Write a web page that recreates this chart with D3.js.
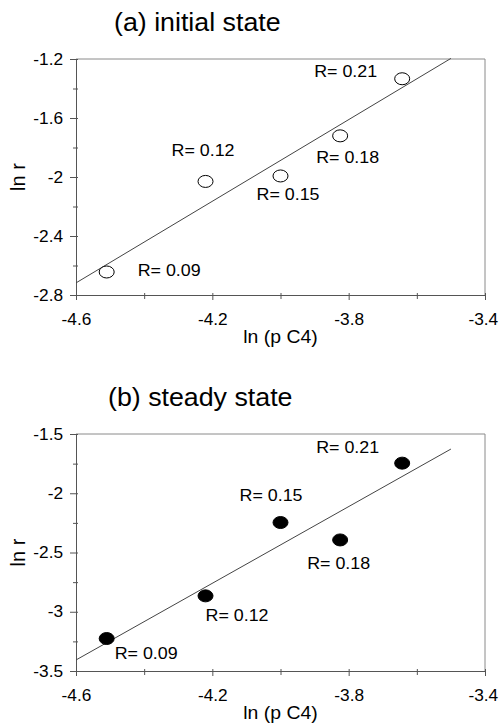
<!DOCTYPE html>
<html>
<head>
<meta charset="utf-8">
<script src="https://cdn.jsdelivr.net/npm/d3@7"></script>
<style>
  body { margin: 0; background: #fff; }
  text { font-family: "Liberation Sans", Arial, sans-serif; fill: #000; }
</style>
</head>
<body>
<div id="chart"></div>
<script>
// data
const lnPC4 = [-4.51, -4.22, -4.00, -3.825, -3.643]
const rLabels = ["R= 0.09", "R= 0.12", "R= 0.15", "R= 0.18", "R= 0.21"]
const lnRInitial = [-2.644, -2.03, -1.993, -1.721, -1.334]
const lnRSteady = [-3.226, -2.866, -2.247, -2.394, -1.746]
// fitted lines, given as their two end points [x, y]
const fitInitial = [[-4.6, -2.718], [-3.5, -1.196]]
const fitSteady = [[-4.6, -3.407], [-3.5, -1.627]]

const xMajor = [-4.6, -4.2, -3.8, -3.4]
const xMinor = [-4.4, -4.0, -3.6]
const yMajorA = [-2.8, -2.4, -2.0, -1.6, -1.2]
const yMinorA = [-2.6, -2.2, -1.8, -1.4]
const yMajorB = [-3.5, -3.0, -2.5, -2.0, -1.5]
const yMinorB = [-3.25, -2.75, -2.25, -1.75]

const width = 499
const height = 724
const left = 76, right = 485
const stretch = 1.08 // the scanned text is a little wider than Arial

const svg = d3.select("div#chart").append("svg").attr("width", width).attr("height", height)

const fmt = d => String(+d.toFixed(2))

function drawPanel(p) {
    const g = svg.append("g").attr("class", "panel")
    const x = d3.scaleLinear().domain([-4.6, -3.4]).range([left, right])
    const y = d3.scaleLinear().domain(p.yDomain).range([p.bottom, p.top])

    // title
    g.append("text")
        .attr("transform", `translate(${114 - p.titleShift},${p.top - 28}) scale(1.03,1)`)
        .style("font-size", "26px")
        .text(p.title)

    // frame top and right
    g.append("path")
        .attr("d", `M${left},${p.top}H${right}V${p.bottom}`)
        .attr("fill", "none").attr("stroke", "#8a8a8a").attr("stroke-width", 1)

    // axes
    const xAx = g.append("g").attr("transform", `translate(0,${p.bottom})`)
        .call(d3.axisBottom(x).tickValues(xMajor).tickSize(5).tickPadding(14).tickFormat(fmt))
    const xMin = g.append("g").attr("transform", `translate(0,${p.bottom})`)
        .call(d3.axisBottom(x).tickValues(xMinor).tickSize(4).tickFormat(""))
    const yAx = g.append("g").attr("transform", `translate(${left},0)`)
        .call(d3.axisLeft(y).tickValues(p.yMajor).tickSize(6).tickPadding(6).tickFormat(fmt))
    const yMin = g.append("g").attr("transform", `translate(${left},0)`)
        .call(d3.axisLeft(y).tickValues(p.yMinor).tickSize(3).tickFormat(""))

    ;[xAx, xMin, yAx, yMin].forEach(a => {
        a.select(".domain").attr("stroke", "#555")
        a.selectAll(".tick line").attr("stroke", "#555")
        a.selectAll("text")
            .style("font-size", "16px")
            .style("font-family", "'Liberation Sans', Arial, sans-serif")
            .attr("fill", "#000")
            .attr("transform", `scale(${stretch},1)`)
    })
    // keep the last x label inside the page
    xAx.selectAll(".tick text").filter(d => d === -3.4).attr("x", -2)
    xAx.selectAll(".tick line").attr("y1", -2)
    xMin.selectAll(".tick line").attr("y1", -2)
    yAx.selectAll(".tick line").attr("x1", 2)
    yMin.selectAll(".tick line").attr("x1", 2)

    // axis titles
    g.append("text")
        .attr("transform", `translate(25,${(p.top + p.bottom) / 2}) rotate(-90)`)
        .attr("text-anchor", "middle")
        .style("font-size", "20px")
        .text("ln r")
    g.append("text")
        .attr("transform", `translate(${(left + right) / 2},${p.bottom + 48}) scale(1.05,1)`)
        .attr("text-anchor", "middle")
        .style("font-size", "18.5px")
        .text("ln (p C4)")

    // regression line
    g.append("path")
        .datum(p.fit)
        .attr("d", d3.line().x(d => x(d[0])).y(d => y(d[1])))
        .attr("fill", "none").attr("stroke", "#444").attr("stroke-width", 1)

    const pts = lnPC4.map((v, i) => ({ x: v, y: p.values[i], label: rLabels[i], off: p.offsets[i] }))

    g.selectAll(".pt").data(pts).enter()
        .append("ellipse")
        .attr("class", "pt")
        .attr("cx", d => x(d.x))
        .attr("cy", d => y(d.y))
        .attr("rx", 7.5).attr("ry", 6)
        .attr("fill", p.filled ? "#000" : "#fff")
        .attr("stroke", "#000").attr("stroke-width", 1)

    g.selectAll(".lab").data(pts).enter()
        .append("text")
        .attr("class", "lab")
        .attr("transform", d => `translate(${x(d.x) + d.off[0]},${y(d.y) + d.off[1]}) scale(1.05,1)`)
        .style("font-size", "17px")
        .text(d => d.label)
}

drawPanel({
    title: "(a) initial state", titleShift: 0,
    top: 59, bottom: 295,
    yDomain: [-2.8, -1.2], yMajor: yMajorA, yMinor: yMinorA,
    values: lnRInitial, fit: fitInitial, filled: false,
    offsets: [[31, 4], [-34, -25], [-24, 24], [-24, 27], [-88, -2]]
})

drawPanel({
    title: "(b) steady state", titleShift: 6,
    top: 434, bottom: 671,
    yDomain: [-3.5, -1.5], yMajor: yMajorB, yMinor: yMinorB,
    values: lnRSteady, fit: fitSteady, filled: true,
    offsets: [[8, 20], [0, 25], [-41, -22], [-33, 29], [-86, -10]]
})
</script>
</body>
</html>
